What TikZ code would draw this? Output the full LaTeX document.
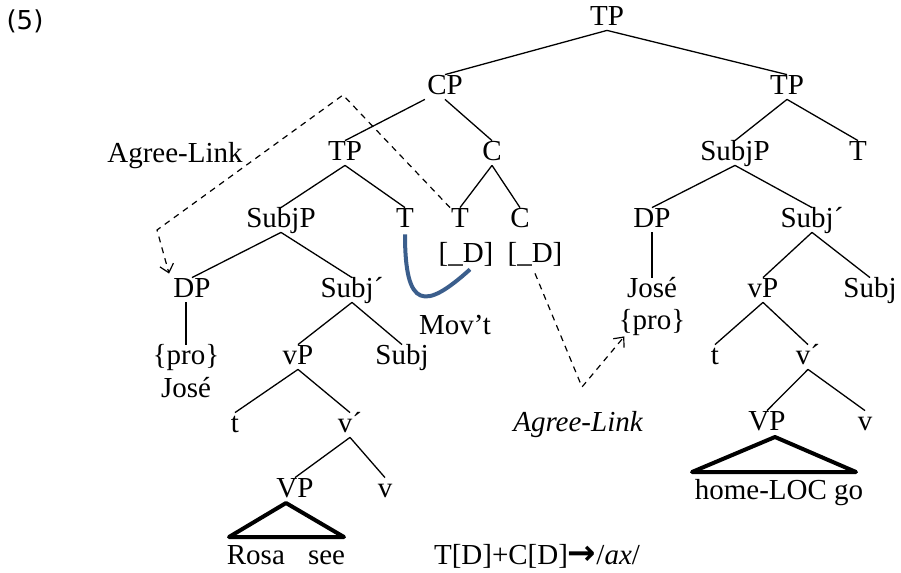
\documentclass[tikz,border=0pt]{standalone}
\usepackage{fontspec}
\setmainfont{Liberation Serif}
\newfontfamily\numfont{DejaVu Sans}
\usepackage{tikz}
\usetikzlibrary{arrows.meta}
\tikzset{
  cat/.style={inner sep=1pt, text height=0.85em, text depth=0.15em},
  branch/.style={line width=0.65pt},
  roof/.style={line width=2pt, line join=round},
  link/.style={dashed, dash pattern=on 3pt off 2.6pt, line width=0.6pt},
  linktip/.style={-{Straight Barb[length=4pt,width=7pt]}}
}
\definecolor{movblue}{RGB}{59,94,140}

\begin{document}
\begin{tikzpicture}[x=0.5pt, y=-0.5pt, font=\fontsize{14.5}{17}\selectfont]
\useasboundingbox (0,0) rectangle (901,573);
%%% example number %%%
\node[cat, font=\numfont\fontsize{13}{15}\selectfont] (num) at (25,22) {(5)};

%%% left tree: CP %%%
\node[cat] (top) at (607,18) {TP};
\node[cat] (cp) at (445,87) {CP};
\node[cat] (tpl) at (345,153) {TP};
\node[cat] (cpc) at (492,153) {C};
\node[cat] (subjpl) at (281,220) {SubjP};
\node[cat] (tl) at (405,220) {T};
\node[cat] (tc) at (460,220) {T};
\node[cat] (cc) at (520,220) {C};
\node[cat] (featt) at (466,255) {[\_D]};
\node[cat] (featc) at (535,255) {[\_D]};
\node[cat] (dpl) at (192,290) {DP};
\node[cat] (subjbarl) at (352,290) {Subj´};
\node[cat] (prol) at (186,357) {\{pro\}};
\node[cat] (josel) at (186,390) {José};
\node[cat] (vpl) at (298,357) {vP};
\node[cat] (subjl) at (402,357) {Subj};
\node[cat] (trl) at (235,425) {t};
\node[cat] (vbarl) at (350,425) {v´};
\node[cat] (bigvpl) at (295,490) {VP};
\node[cat] (vl) at (385,490) {v};
\node[cat] (rosa) at (286,557) {Rosa\hspace{0.8em}see};
\coordinate (apexl) at (286,503);
\coordinate (basell) at (229,537);
\coordinate (baselr) at (344,537);

%%% right tree: TP %%%
\node[cat] (tpr) at (787,87) {TP};
\node[cat] (subjpr) at (735,153) {SubjP};
\node[cat] (tr) at (858,153) {T};
\node[cat] (dpr) at (652,220) {DP};
\node[cat] (subjbarr) at (812,220) {Subj´};
\node[cat] (joser) at (652,290) {José};
\node[cat] (pror) at (652,322) {\{pro\}};
\node[cat] (vpr) at (763,290) {vP};
\node[cat] (subjr) at (870,290) {Subj};
\node[cat] (trr) at (715,357) {t};
\node[cat] (vbarr) at (808,357) {v´};
\node[cat] (bigvpr) at (767,423) {VP};
\node[cat] (vr) at (865,423) {v};
\node[cat] (homego) at (779,492) {home-LOC go};
\coordinate (apexr) at (775,437);
\coordinate (baserl) at (692,472);
\coordinate (baserr) at (856,472);

%%% labels %%%
\node[cat] (agreel) at (175,155) {Agree-Link};
\node[cat] (agreer) at (578,424) {\itshape Agree-Link};
\node[cat] (movt) at (455,327) {Mov’t};
\node[cat] (spellout) at (537,557) {T[D]+C[D]{\numfont\bfseries\fontsize{17}{17}\selectfont →}/\textit{ax}/};

%%% branches %%%
\draw[branch] (top.south) -- (cp.north);
\draw[branch] (top.south) -- (tpr.north);
\draw[branch] (cp.south west) -- (tpl.north);
\draw[branch] (cp.south) -- (cpc.north);
\draw[branch] (tpl.south) -- (subjpl.north);
\draw[branch] (tpl.south) -- (tl.north);
\draw[branch] (cpc.south) -- (tc.north);
\draw[branch] (cpc.south) -- (cc.north);
\draw[branch] (subjpl.south) -- (dpl.north);
\draw[branch] (subjpl.south) -- (subjbarl.north);
\draw[branch] (dpl.south -| prol.north) -- (prol.north);
\draw[branch] (subjbarl.south) -- (vpl.north);
\draw[branch] (subjbarl.south) -- (subjl.north);
\draw[branch] (vpl.south) -- (trl.north);
\draw[branch] (vpl.south) -- (vbarl.north);
\draw[branch] (vbarl.south) -- (bigvpl.north);
\draw[branch] (vbarl.south) -- (vl.north);
\draw[roof] (apexl) -- (basell) -- (baselr) -- cycle;

\draw[branch] (tpr.south) -- (subjpr.north);
\draw[branch] (tpr.south) -- (tr.north);
\draw[branch] (subjpr.south) -- (dpr.north);
\draw[branch] (subjpr.south) -- (subjbarr.north);
\draw[branch] (dpr.south) -- (joser.north);
\draw[branch] (subjbarr.south) -- (vpr.north);
\draw[branch] (subjbarr.south) -- (subjr.north);
\draw[branch] (vpr.south) -- (trr.north);
\draw[branch] (vpr.south) -- (vbarr.north);
\draw[branch] (vbarr.south) -- (bigvpr.north);
\draw[branch] (vbarr.south) -- (vr.north);
\draw[roof] (apexr) -- (baserl) -- (baserr) -- cycle;

%%% movement and agree links %%%
\draw[movblue, line width=2pt] ([yshift=-1pt]tl.south) .. controls (405,310) and (425,310) .. ([xshift=2pt,yshift=-1pt]featt.south);
\coordinate (bendA) at (343,95);
\coordinate (bendB) at (157,230);
\draw[link, linktip] ([xshift=-5pt]tc.north) -- (bendA) -- (bendB) -- ([xshift=-1pt,yshift=2pt]dpl.north west);
\coordinate (bendC) at (582,387);
\draw[link, linktip] ([yshift=-3pt]featc.south) -- (bendC) -- ([xshift=4pt,yshift=-1pt]pror.south west);

\end{tikzpicture}
\end{document}
